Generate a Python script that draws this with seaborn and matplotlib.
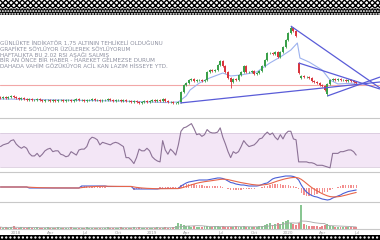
import numpy as np
import pandas as pd
import matplotlib
matplotlib.use("Agg")
import matplotlib.pyplot as plt
import seaborn as sns
from matplotlib.patches import Rectangle

sns.set_theme(style="white")
plt.rcParams["font.family"] = ["DejaVu Sans"]
plt.rcParams["hatch.linewidth"] = 1.0

# ---------------- data (weekly) ----------------
closes = [
    1.33, 1.40, 1.33, 1.40, 1.47, 1.40, 1.33, 1.27, 1.33, 1.27,
    1.20, 1.27, 1.20, 1.20, 1.27, 1.20, 1.13, 1.20, 1.20, 1.13,
    1.20, 1.13, 1.20, 1.20, 1.13, 1.20, 1.20, 1.13, 1.20, 1.27,
    1.20, 1.20, 1.13, 1.20, 1.20, 1.27, 1.20, 1.20, 1.13, 1.20,
    1.20, 1.27, 1.20, 1.13, 1.20, 1.20, 1.13, 1.20, 1.13, 1.13,
    1.07, 1.13, 1.07, 1.00, 1.07, 1.13, 1.07, 1.13, 1.20, 1.13,
    1.20, 1.13, 1.27, 1.13, 1.07, 1.07, 1.00, 1.00, 1.07,
    1.73, 2.20, 2.33, 2.53, 2.60, 2.47, 2.53, 2.53, 2.47, 2.53,
    3.07, 3.20, 3.13, 3.20, 3.53, 3.80, 3.47, 3.07, 2.67, 2.40,
    2.60, 2.53, 2.87, 3.07, 3.47, 3.07, 3.07, 3.13, 2.93, 3.00,
    3.13, 3.47, 3.87, 4.33, 4.33, 4.27, 4.40, 4.07, 4.40, 4.73,
    5.20, 5.67, 6.00, 5.80, 5.47,
    3.00, 2.80, 2.73, 2.73, 2.67, 2.47, 2.40, 2.33, 2.20, 2.13, 1.87,
    2.27, 2.53, 2.60, 2.53, 2.60, 2.53, 2.53, 2.47, 2.53, 2.47, 2.40, 2.33,
]
first_open = 1.40
gap_opens = {114: 3.67, 115: 2.67, 125: 1.60}
wick_highs = {111: 6.13}
wick_lows = {125: 1.47, 88: 2.00, 53: 0.93}

volume = [
    2, 1, 2, 1, 2, 3, 1, 1, 2, 1, 1, 2, 1, 1, 2, 1, 1, 1, 2, 1,
    1, 1, 2, 1, 1, 1, 1, 2, 1, 1, 1, 1, 1, 2, 1, 1, 1, 1, 1, 1,
    1, 2, 1, 1, 1, 1, 2, 1, 1, 1, 1, 2, 1, 2, 1, 1, 1, 1, 1, 1,
    2, 1, 1, 2, 1, 1, 2,
    3, 6, 5, 4, 3, 3, 2, 3, 2, 2,
    2, 3, 3, 2, 2, 3, 3, 2, 3, 2,
    2, 2, 2, 3, 2, 2, 3, 2, 2, 2,
    2, 2, 3, 3, 4, 5, 6, 4, 5, 6,
    5, 7, 8, 9, 6, 5, 4, 6, 24, 5,
    4, 3, 3, 3, 3, 2, 3, 4, 5, 3,
    3, 2, 2, 2, 2, 2, 2, 2, 2, 2,
]

rsi = [
    54, 56, 57, 58, 61, 62, 57, 54, 52, 54,
    52, 46, 43, 43, 46, 42, 45, 49, 51, 52,
    48, 49, 49, 45, 44, 42, 43, 48, 46, 44,
    50, 51, 51, 54, 62, 65, 64, 62, 56, 59,
    58, 57, 56, 58, 59, 58, 56, 54, 41, 41,
    38, 34, 41, 51, 49, 49, 52, 49, 42, 39,
    37, 36, 61, 50, 45, 51, 48, 44, 56, 72,
    76, 77, 79, 81, 75, 68, 69, 66, 68, 74,
    71, 70, 70, 71, 76, 65, 57, 48, 41, 48,
    46, 48, 54, 61, 57, 54, 55, 56, 59, 63,
    64, 68, 71, 68, 70, 65, 62, 68, 63, 69,
    72, 72, 63, 62, 36, 36, 36, 36, 35, 35,
    34, 32, 32, 32, 31, 30, 29, 46, 46, 46,
    48, 48, 49, 50, 50, 48, 44,
]

macd = (
    [0.5] * 11 + [-0.5] * 20 + [1.5] * 10 + [1.0] * 10 + [-1.5] * 10 + [-1.0] * 8
    + [1.5, 3, 4.5, 5.5, 6, 6.5, 7, 7.5, 7.5, 7.5,
       7.5, 8, 8.5, 9, 9.5, 9.5, 9, 8, 6.5, 5,
       4.5, 3.5, 3, 2.5, 2.5, 2, 1.5, 1.5, 1.5, 1.5,
       2, 3, 4, 4.5, 6.5, 8.5, 9.5, 10, 10.5, 11,
       11.5, 11.5, 11.5, 11, 10, 7.5, 2.5, -1.5, -4.5, -6.5,
       -8, -9, -9.5, -10.5, -11.5, -12, -12.5, -12, -10.5, -9.5,
       -8.5, -7.5, -6, -5, -4, -3.5, -3, -2.5]
)

ma_weeks = [0, 23, 46, 57, 63, 68, 71, 72.5, 76, 80, 85, 88, 92, 98, 103, 107,
            111, 113.5, 114.5, 118, 123, 126, 129, 136]
ma_values = [1.27, 1.20, 1.13, 1.07, 1.03, 1.07, 1.47, 1.87, 2.33, 2.67, 3.00,
             2.80, 2.87, 3.07, 3.67, 4.07, 4.53, 5.00, 4.00, 3.73, 3.20, 2.53,
             2.27, 2.33]

resistance = 2.20
trend_lines = [  # (week0, price0, week1, price1)
    (68.6, 1.00, 145.1, 2.40),
    (111.0, 6.13, 145.1, 2.00),
    (114.0, 3.67, 145.1, 1.93),
    (125.0, 1.47, 145.1, 2.73),
]

tick_weeks = [6, 19, 32, 45, 58, 71, 84, 97, 110, 123, 136]
tick_labels = ["2018", "Apr", "Jul", "Oct", "2019", "Apr", "Jul", "Oct",
               "2020", "Apr", "Jul"]

notes = [
    "GÜNLÜKTE İNDİKATÖR 1,75 ALTININ TEHLİKELİ OLDUĞUNU",
    "GRAFİKTE SÖYLÜYOR ÜZÜLEREK SÖYLÜYORUM",
    "HAFTALIKTA BU 2.02 RSI AŞAĞI SALMIŞ",
    "BİR AN ÖNCE BİR HABER - HAREKET GELMEZSE DURUM",
    "DAHADA VAHİM GÖZÜKÜYOR ACİL KAN LAZIM HİSSEYE YTD.",
]

# ---------------- derived ----------------
n = len(closes)
weeks = np.arange(n)
c = np.array(closes)
o = np.r_[first_open, c[:-1]]
for k, v in gap_opens.items():
    o[k] = v
hi = np.maximum(o, c) + 0.05
lo = np.minimum(o, c) - 0.05
for k, v in wick_highs.items():
    hi[k] = v
for k, v in wick_lows.items():
    lo[k] = v
up = c >= o
GREEN, RED = "#3aa04a", "#d9363e"
cols = np.where(up, GREEN, RED)

macd_s = pd.Series(macd, dtype=float)
signal = macd_s.ewm(span=9, adjust=False).mean()
hist = macd_s - signal

# ---------------- figure ----------------
W, H = 380, 240
fig = plt.figure(figsize=(W / 100, H / 100), dpi=100)
fig.patch.set_facecolor("white")

def axes_px(top, bottom):
    return fig.add_axes([0, 1 - bottom / H, 1, (bottom - top) / H])

ax = axes_px(15, 118)
ax_rsi = axes_px(118, 172)
ax_macd = axes_px(172, 202)
ax_vol = axes_px(202, 229)

XL = (-0.19, 145.1)
for a in (ax, ax_rsi, ax_macd, ax_vol):
    a.set_xlim(*XL)
    a.set_facecolor("none")
    a.set_yticks([])
    a.set_xticks([])
    for s in ("left", "right", "bottom"):
        a.spines[s].set_visible(False)
    a.spines["top"].set_color("#c8c8c8")
    a.spines["top"].set_linewidth(0.8)
ax.spines["top"].set_visible(False)
ax_vol.spines["bottom"].set_visible(True)
ax_vol.spines["bottom"].set_color("#c8c8c8")
ax_vol.spines["bottom"].set_linewidth(0.8)

# main price panel
ax.set_ylim(0, 6.867)
ax.axhline(resistance, color="#f2a7a7", lw=0.8, zorder=1)
ax.vlines(weeks, lo, hi, colors=cols, lw=0.6, zorder=3)
ax.bar(weeks, np.maximum(np.abs(c - o), 0.025), bottom=np.minimum(o, c),
       width=0.72, color=cols, linewidth=0, zorder=4)
sns.lineplot(x=ma_weeks, y=ma_values, ax=ax, color="#9db2ee", lw=0.8, zorder=2)
for (x0, y0, x1, y1) in trend_lines:
    ax.plot([x0, x1], [y0, y1], color="#5a5cd8", lw=0.9, zorder=5,
            solid_capstyle="butt")

# RSI panel
ax_rsi.set_ylim(24.1, 87.6)
ax_rsi.axhspan(30, 70, color="#f3e6f6", lw=0, zorder=0)
ax_rsi.axhline(70, color="#d3c4d8", lw=0.5)
ax_rsi.axhline(30, color="#d3c4d8", lw=0.5)
sns.lineplot(x=weeks, y=rsi, ax=ax_rsi, color="#8c7296", lw=0.8)

# MACD panel
ax_macd.set_ylim(-14.5, 15.5)
ax_macd.bar(weeks, hist, width=0.5, color="#ef6a6a", alpha=0.75, lw=0)
sns.lineplot(x=weeks, y=macd_s.values, ax=ax_macd, color="#4a5fd6", lw=0.8)
sns.lineplot(x=weeks, y=signal.values, ax=ax_macd, color="#e8664a", lw=0.8)

# Volume panel
ax_vol.set_ylim(0, 27)
ax_vol.bar(weeks, volume, width=0.72, color=cols, alpha=0.6, lw=0)
vol_ma = pd.Series(volume, dtype=float).rolling(10, min_periods=1).mean()
sns.lineplot(x=weeks, y=vol_ma.values, ax=ax_vol, color="#a6a6a6", lw=0.6)
ax_vol.set_xticks(tick_weeks)
ax_vol.set_xticklabels(tick_labels, fontsize=3, color="#9a9a9a")
ax_vol.tick_params(axis="x", length=0, pad=1.2)

for a in (ax, ax_rsi, ax_macd, ax_vol):
    a.set_xlabel("")
    a.set_ylabel("")

# annotation text
centers = [44, 49.6, 55.2, 60.8, 66.4]
texts = []
for line, yc in zip(notes, centers):
    t = fig.text(0.5 / W, 1 - yc / H, line, fontsize=3.6, color="#8d90a0",
                 ha="left", va="center")
    texts.append(t)
fig.canvas.draw()
w0 = texts[0].get_window_extent().width
scale = 164.0 / w0
for t in texts:
    t.set_fontsize(3.6 * scale)

# header / footer bands
fig.patches.append(Rectangle((0, 1 - 8 / H), 1, 8 / H, transform=fig.transFigure,
                             facecolor="white", edgecolor="black", hatch="xxxxxx",
                             lw=0, zorder=10))
fig.patches.append(Rectangle((0, 1 - 15 / H), 1, 7 / H, transform=fig.transFigure,
                             facecolor="black", edgecolor="white", hatch="......",
                             lw=0, zorder=10))
fig.patches.append(Rectangle((0, 0), 1, 5 / H, transform=fig.transFigure,
                             facecolor="black", edgecolor="white", hatch="....",
                             lw=0, zorder=10))

fig.savefig("out.png", dpi=100, facecolor="white")
